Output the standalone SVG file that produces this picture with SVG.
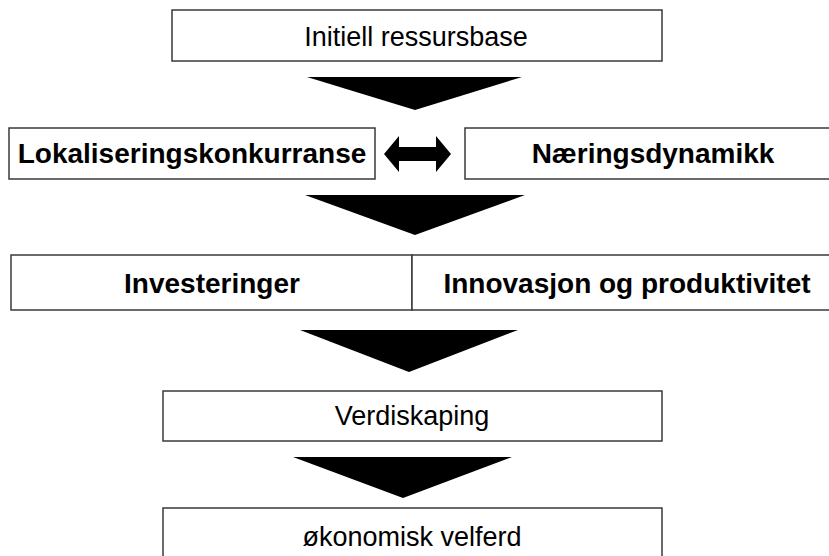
<svg xmlns="http://www.w3.org/2000/svg" width="829" height="556" viewBox="0 0 829 556">
<style>
.box{fill:#fff;stroke:#3a3a3a;stroke-width:1.5}
.reg{font-family:"Liberation Sans",Arial,sans-serif;font-size:27px;fill:#000;text-anchor:middle}
.bold{font-family:"Liberation Sans",Arial,sans-serif;font-size:28px;font-weight:bold;fill:#000;text-anchor:middle}
.arr{fill:#000;stroke:none}
</style>
<rect width="829" height="556" fill="#fff"/>
<g id="initiell">
<rect class="box" x="172" y="10" width="490" height="51"/>
<text class="reg" x="416" y="46">Initiell ressursbase</text>
</g>
<g id="lokalisering">
<rect class="box" x="9" y="128" width="366" height="51"/>
<text class="bold" x="192" y="163">Lokaliseringskonkurranse</text>
</g>
<g id="naeringsdynamikk">
<rect class="box" x="465" y="128" width="380" height="51"/>
<text class="bold" x="653" y="163">Næringsdynamikk</text>
</g>
<g id="investeringer">
<rect class="box" x="11" y="255" width="401" height="55"/>
<text class="bold" x="212" y="293">Investeringer</text>
</g>
<g id="innovasjon">
<rect class="box" x="412" y="255" width="430" height="55"/>
<text class="bold" x="627" y="293">Innovasjon og produktivitet</text>
</g>
<g id="verdiskaping">
<rect class="box" x="163" y="391" width="499" height="50"/>
<text class="reg" x="412" y="425">Verdiskaping</text>
</g>
<g id="velferd">
<rect class="box" x="163" y="508" width="499" height="60"/>
<text class="reg" x="412" y="546">økonomisk velferd</text>
</g>
<g id="connectors">
<polygon class="arr" points="307,77 522,77 415,110"/>
<polygon class="arr" points="384,154 399,136 399,147 436,147 436,136 451,154 436,172 436,161 399,161 399,172"/>
<polygon class="arr" points="305,195 525,195 415,235"/>
<polygon class="arr" points="300,330 518,330 409,372"/>
<polygon class="arr" points="293,457 512,457 403,498"/>
</g>
</svg>
